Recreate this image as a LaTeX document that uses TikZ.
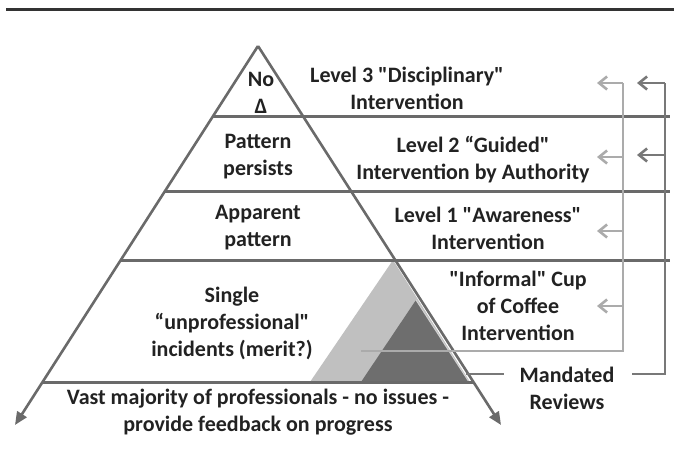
\documentclass[tikz,border=0pt]{standalone}
\usepackage{fontspec}
\setmainfont{Carlito}[Ligatures=TeXOff]
\usetikzlibrary{arrows.meta}
\definecolor{rulec}{HTML}{333333}
\definecolor{pyrc}{HTML}{6A6A6A}
\definecolor{lightc}{HTML}{ABABAB}
\definecolor{darkc}{HTML}{787878}
\definecolor{lightfill}{HTML}{C0C0C0}
\definecolor{darkfill}{HTML}{6E6E6E}
\definecolor{txtc}{HTML}{222222}
\tikzset{
  lbl/.style={inner sep=0pt, align=center, text=txtc,
    font=\fontsize{22}{27}\selectfont\bfseries},
  pyrside/.style={draw=pyrc, line width=2.6pt, -{Triangle[length=13pt,width=11pt]}},
  hline/.style={draw=pyrc, line width=3pt},
  lightconn/.style={draw=lightc, line width=2.6pt},
  darkconn/.style={draw=darkc, line width=2.6pt},
  lightarr/.style={lightconn, -{Straight Barb[length=8pt,width=13pt]}},
  darkarr/.style={darkconn, -{Straight Barb[length=8pt,width=13pt]}},
}
\begin{document}
\begin{tikzpicture}[x=1pt,y=-1pt]
\useasboundingbox (0,0) rectangle (674,468);
% top rule
\coordinate (r1) at (6,10);
\coordinate (r2) at (674,10);
\draw[rulec, line width=3pt] (r1) -- (r2);
% pyramid key points
\coordinate (A) at (258,46);
\coordinate (L) at (15,425);
\coordinate (R) at (501,425);
% shaded triangles
\coordinate (lt1) at (393,260);
\coordinate (lt2) at (310,382);
\coordinate (lt3) at (470,382);
\coordinate (dt1) at (416,300);
\coordinate (dt2) at (361,382);
\coordinate (dt3) at (469,382);
\fill[lightfill] (lt1) -- (lt2) -- (lt3) -- cycle;
\fill[darkfill] (dt1) -- (dt2) -- (dt3) -- cycle;
\draw[lightfill!70!white, line width=1pt] (dt1) -- (dt3);
% horizontal lines
\coordinate (h1a) at (213,117); \coordinate (h1b) at (670,117);
\coordinate (h2a) at (165,191); \coordinate (h2b) at (670,191);
\coordinate (h3a) at (121,260); \coordinate (h3b) at (670,260);
\coordinate (h4a) at (43,382);  \coordinate (h4b) at (473,382);
\draw[hline] (h1a) -- (h1b);
\draw[hline] (h2a) -- (h2b);
\draw[hline] (h3a) -- (h3b);
\draw[hline] (h4a) -- (h4b);
% pyramid sides
\draw[pyrside] (A) -- (L);
\draw[pyrside] (A) -- (R);
% labels
\node[lbl] (nod) at (261,93) {No\\Δ};
\node[lbl] (lvl3) at (407,88) {Level 3 "Disciplinary"\\Intervention};
\node[lbl] (patt) at (258,157) {Pattern\\persists};
\node[lbl] (lvl2) at (473,160) {Level 2 “Guided"\\Intervention by Authority};
\node[lbl] (appar) at (258,228) {Apparent\\pattern};
\node[lbl] (lvl1) at (488,228) {Level 1 "Awareness"\\Intervention};
\node[lbl] (inform) at (518,306) {"Informal" Cup\\of Coffee\\Intervention};
\node[lbl] (single) at (232,323) {Single\\“unprofessional"\\incidents (merit?)};
\node[lbl] (mand) at (567,388) {Mandated\\Reviews};
\node[lbl] (vast) at (258,412) {Vast majority of professionals - no issues -\\provide feedback on progress};
% light connector (from the light triangle)
\coordinate (ls) at (361,351);
\coordinate (lc) at (623,351);
\coordinate (lv3) at (623,83);  \coordinate (la3) at (597,83);
\coordinate (lv2) at (623,157); \coordinate (la2) at (597,157);
\coordinate (lv1) at (623,231); \coordinate (la1) at (597,231);
\coordinate (lv0) at (623,306); \coordinate (la0) at (597,306);
\draw[lightconn] (ls) -- (lc) -- (lv3);
\draw[lightarr] (lv3) -- (la3);
\draw[lightarr] (lv2) -- (la2);
\draw[lightarr] (lv1) -- (la1);
\draw[lightarr] (lv0) -- (la0);
% dark connector (mandated reviews)
\coordinate (ds) at (466,374);
\coordinate (dw) at (504,374);
\coordinate (de) at (632,374);
\coordinate (dc) at (665,374);
\coordinate (dv3) at (665,83);  \coordinate (da3) at (637,83);
\coordinate (dv2) at (665,155); \coordinate (da2) at (637,155);
\draw[darkconn] (ds) -- (dw);
\draw[darkconn] (de) -- (dc) -- (dv3);
\draw[darkarr] (dv3) -- (da3);
\draw[darkarr] (dv2) -- (da2);
\end{tikzpicture}
\end{document}
